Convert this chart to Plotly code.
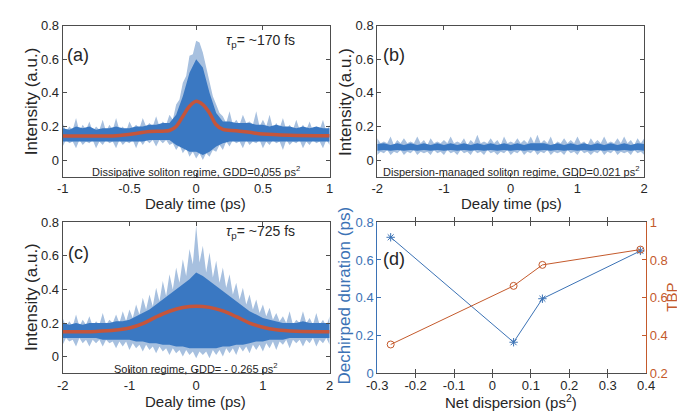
import plotly.graph_objects as go

W, H = 685, 411

# ---------------- data ----------------
# Panel (a): dissipative soliton autocorrelation, envelopes of the noisy trace
t_a_fine = [round(-1 + 0.025 * i, 3) for i in range(81)]
a_outer_hi = [0.22, 0.17, 0.20, 0.18, 0.25, 0.17, 0.21, 0.18, 0.23, 0.17,
              0.20, 0.18, 0.24, 0.17, 0.21, 0.18, 0.25, 0.18, 0.20, 0.17,
              0.23, 0.19, 0.21, 0.19, 0.25, 0.20, 0.22, 0.20, 0.26, 0.20,
              0.23, 0.21, 0.27, 0.24, 0.33, 0.36, 0.46, 0.50, 0.62, 0.63,
              0.71, 0.70, 0.64, 0.55, 0.47, 0.38, 0.33, 0.28, 0.26, 0.22,
              0.29, 0.21, 0.24, 0.21, 0.27, 0.22, 0.23, 0.21, 0.29, 0.20,
              0.24, 0.20, 0.27, 0.19, 0.22, 0.19, 0.25, 0.18, 0.21, 0.18,
              0.24, 0.18, 0.21, 0.18, 0.23, 0.17, 0.20, 0.18, 0.24, 0.17,
              0.21]
a_outer_lo = [0.08, 0.12, 0.10, 0.11, 0.07, 0.12, 0.09, 0.11, 0.10, 0.12,
              0.07, 0.11, 0.09, 0.12, 0.10, 0.11, 0.07, 0.12, 0.09, 0.11,
              0.10, 0.12, 0.07, 0.12, 0.09, 0.12, 0.10, 0.12, 0.08, 0.12,
              0.10, 0.12, 0.09, 0.10, 0.06, 0.09, 0.04, 0.07, 0.02, 0.05,
              0.01, 0.04, 0.00, 0.04, 0.02, 0.06, 0.05, 0.09, 0.06, 0.11,
              0.08, 0.12, 0.10, 0.11, 0.07, 0.12, 0.09, 0.11, 0.10, 0.12,
              0.07, 0.11, 0.09, 0.12, 0.10, 0.11, 0.06, 0.12, 0.09, 0.11,
              0.10, 0.12, 0.07, 0.11, 0.09, 0.12, 0.10, 0.11, 0.07, 0.12,
              0.09]
t_a = [-1.00, -0.95, -0.90, -0.85, -0.80, -0.75, -0.70, -0.65, -0.60, -0.55, -0.50,
       -0.45, -0.40, -0.35, -0.30, -0.25, -0.20, -0.15, -0.10, -0.05, 0.00,
       0.05, 0.10, 0.15, 0.20, 0.25, 0.30, 0.35, 0.40, 0.45, 0.50,
       0.55, 0.60, 0.65, 0.70, 0.75, 0.80, 0.85, 0.90, 0.95, 1.00]
a_inner_hi = [0.19, 0.18, 0.20, 0.19, 0.20, 0.18, 0.19, 0.19, 0.20, 0.19, 0.19,
              0.20, 0.20, 0.21, 0.21, 0.22, 0.22, 0.27, 0.38, 0.52, 0.60,
              0.55, 0.40, 0.28, 0.23, 0.23, 0.22, 0.22, 0.22, 0.21, 0.21,
              0.20, 0.21, 0.20, 0.20, 0.19, 0.20, 0.19, 0.20, 0.19, 0.19]
a_inner_lo = [0.11, 0.11, 0.11, 0.11, 0.11, 0.11, 0.11, 0.11, 0.11, 0.11, 0.11,
              0.11, 0.11, 0.12, 0.12, 0.12, 0.12, 0.09, 0.07, 0.05, 0.05,
              0.03, 0.05, 0.08, 0.10, 0.11, 0.11, 0.11, 0.11, 0.11, 0.11,
              0.11, 0.11, 0.11, 0.11, 0.11, 0.11, 0.11, 0.11, 0.11, 0.11]
fit_t_a = [-1.0, -0.8, -0.6, -0.45, -0.35, -0.25, -0.2, -0.15, -0.1, -0.05, 0.0,
           0.05, 0.1, 0.15, 0.2, 0.3, 0.4, 0.5, 0.7, 1.0]
fit_a = [0.143, 0.143, 0.145, 0.158, 0.170, 0.172, 0.176, 0.200, 0.260, 0.320, 0.350,
         0.330, 0.280, 0.210, 0.182, 0.175, 0.165, 0.155, 0.148, 0.145]

# Panel (b): dispersion-managed soliton (flat background)
t_b_fine = [round(-2 + 0.05 * i, 3) for i in range(81)]
b_outer_hi = [0.13, 0.10, 0.11, 0.10, 0.14, 0.09, 0.12, 0.10, 0.13, 0.10,
              0.11, 0.10, 0.14, 0.10, 0.12, 0.09, 0.13, 0.10, 0.11, 0.10,
              0.12, 0.10, 0.14, 0.10, 0.11, 0.10, 0.13, 0.09, 0.12, 0.10,
              0.15, 0.10, 0.11, 0.10, 0.13, 0.10, 0.12, 0.09, 0.14, 0.10,
              0.11, 0.10, 0.13, 0.10, 0.12, 0.10, 0.14, 0.10, 0.15, 0.10,
              0.12, 0.10, 0.14, 0.09, 0.11, 0.10, 0.13, 0.10, 0.12, 0.10,
              0.14, 0.10, 0.11, 0.09, 0.13, 0.10, 0.12, 0.10, 0.14, 0.10,
              0.11, 0.10, 0.13, 0.10, 0.14, 0.10, 0.12, 0.09, 0.13, 0.10,
              0.13]
b_outer_lo = [0.03, 0.05, 0.04, 0.06, 0.03, 0.05, 0.04, 0.06, 0.03, 0.05,
              0.04, 0.06, 0.03, 0.05, 0.04, 0.05, 0.03, 0.06, 0.04, 0.05,
              0.03, 0.06, 0.04, 0.05, 0.03, 0.06, 0.04, 0.05, 0.03, 0.06,
              0.04, 0.05, 0.03, 0.06, 0.04, 0.05, 0.03, 0.05, 0.04, 0.06,
              0.03, 0.05, 0.04, 0.06, 0.03, 0.05, 0.04, 0.06, 0.03, 0.05,
              0.04, 0.06, 0.03, 0.05, 0.04, 0.05, 0.03, 0.06, 0.04, 0.05,
              0.03, 0.06, 0.04, 0.05, 0.03, 0.05, 0.04, 0.06, 0.03, 0.05,
              0.04, 0.06, 0.03, 0.05, 0.04, 0.05, 0.03, 0.06, 0.04, 0.05,
              0.03]
t_b = [-2.0, -1.9, -1.8, -1.7, -1.6, -1.5, -1.4, -1.3, -1.2, -1.1, -1.0,
       -0.9, -0.8, -0.7, -0.6, -0.5, -0.4, -0.3, -0.2, -0.1, 0.0,
       0.1, 0.2, 0.3, 0.4, 0.5, 0.6, 0.7, 0.8, 0.9, 1.0,
       1.1, 1.2, 1.3, 1.4, 1.5, 1.6, 1.7, 1.8, 1.9, 2.0]
b_inner_hi = [0.095, 0.100, 0.090, 0.100, 0.090, 0.100, 0.090, 0.100, 0.090, 0.100, 0.090,
              0.100, 0.090, 0.100, 0.090, 0.100, 0.090, 0.100, 0.090, 0.100, 0.090,
              0.100, 0.090, 0.100, 0.100, 0.100, 0.090, 0.100, 0.090, 0.100, 0.090,
              0.100, 0.090, 0.100, 0.090, 0.100, 0.090, 0.100, 0.090, 0.100, 0.095]
b_inner_lo = [0.055, 0.060, 0.055, 0.060, 0.055, 0.060, 0.055, 0.060, 0.055, 0.060, 0.055,
              0.060, 0.055, 0.060, 0.055, 0.060, 0.055, 0.060, 0.055, 0.060, 0.055,
              0.060, 0.055, 0.060, 0.055, 0.060, 0.055, 0.060, 0.055, 0.060, 0.055,
              0.060, 0.055, 0.060, 0.055, 0.060, 0.055, 0.060, 0.055, 0.060, 0.055]

# Panel (c): soliton regime autocorrelation
t_c_fine = t_b_fine
c_outer_hi = [0.23, 0.18, 0.21, 0.18, 0.25, 0.18, 0.22, 0.19, 0.24, 0.18,
              0.21, 0.19, 0.26, 0.19, 0.22, 0.20, 0.25, 0.20, 0.27, 0.21,
              0.28, 0.23, 0.31, 0.25, 0.35, 0.28, 0.37, 0.30, 0.41, 0.33,
              0.45, 0.36, 0.49, 0.40, 0.53, 0.44, 0.58, 0.48, 0.64, 0.55,
              0.78, 0.56, 0.66, 0.50, 0.62, 0.47, 0.57, 0.44, 0.53, 0.41,
              0.49, 0.37, 0.44, 0.34, 0.41, 0.31, 0.37, 0.28, 0.34, 0.26,
              0.31, 0.24, 0.29, 0.22, 0.26, 0.21, 0.24, 0.20, 0.27, 0.19,
              0.22, 0.20, 0.27, 0.20, 0.23, 0.19, 0.26, 0.19, 0.22, 0.18,
              0.24]
c_outer_lo = [0.07, 0.11, 0.09, 0.10, 0.06, 0.11, 0.08, 0.10, 0.06, 0.10,
              0.08, 0.10, 0.06, 0.10, 0.08, 0.09, 0.05, 0.09, 0.06, 0.09,
              0.04, 0.08, 0.05, 0.07, 0.03, 0.07, 0.04, 0.06, 0.02, 0.06,
              0.03, 0.05, 0.01, 0.05, 0.02, 0.04, 0.00, 0.04, 0.01, 0.03,
              -0.01, 0.03, 0.01, 0.03, -0.01, 0.04, 0.01, 0.04, 0.00, 0.05,
              0.02, 0.05, 0.01, 0.06, 0.03, 0.06, 0.02, 0.07, 0.04, 0.07,
              0.03, 0.08, 0.05, 0.09, 0.04, 0.09, 0.07, 0.10, 0.05, 0.10,
              0.08, 0.10, 0.06, 0.10, 0.08, 0.11, 0.06, 0.10, 0.08, 0.11,
              0.07]
t_c = t_b
c_inner_hi = [0.20, 0.19, 0.20, 0.19, 0.20, 0.20, 0.20, 0.20, 0.21, 0.21, 0.22,
              0.24, 0.26, 0.28, 0.31, 0.34, 0.37, 0.40, 0.43, 0.46, 0.50,
              0.48, 0.45, 0.42, 0.39, 0.36, 0.33, 0.30, 0.27, 0.25, 0.23,
              0.22, 0.21, 0.20, 0.20, 0.20, 0.21, 0.20, 0.20, 0.20, 0.20]
c_inner_lo = [0.11, 0.11, 0.11, 0.11, 0.11, 0.11, 0.10, 0.10, 0.10, 0.10, 0.10,
              0.09, 0.09, 0.08, 0.08, 0.07, 0.07, 0.06, 0.06, 0.05, 0.05,
              0.05, 0.05, 0.05, 0.06, 0.06, 0.07, 0.07, 0.08, 0.09, 0.09,
              0.10, 0.10, 0.10, 0.11, 0.11, 0.11, 0.11, 0.11, 0.11, 0.11]
fit_t_c = [-2.0, -1.5, -1.2, -1.0, -0.8, -0.6, -0.4, -0.2, 0.0,
           0.2, 0.4, 0.6, 0.8, 1.0, 1.2, 1.5, 2.0]
fit_c = [0.148, 0.150, 0.158, 0.170, 0.196, 0.236, 0.270, 0.292, 0.300,
         0.293, 0.272, 0.238, 0.200, 0.175, 0.160, 0.151, 0.148]

# Panel (d): dechirped duration and TBP vs net dispersion
net_disp = [-0.265, 0.055, 0.13, 0.385]
dechirped = [0.72, 0.165, 0.395, 0.648]
tbp = [0.353, 0.663, 0.774, 0.855]

# tick labels
ticks_y = [0, 0.2, 0.4, 0.6, 0.8]
ticks_y_txt = ["0", "0.2", "0.4", "0.6", "0.8"]
ticks_xa = [-1, -0.5, 0, 0.5, 1]
ticks_xa_txt = ["-1", "-0.5", "0", "0.5", "1"]
ticks_xb = [-2, -1, 0, 1, 2]
ticks_xb_txt = ["-2", "-1", "0", "1", "2"]
ticks_xd = [-0.3, -0.2, -0.1, 0, 0.1, 0.2, 0.3, 0.4]
ticks_xd_txt = ["-0.3", "-0.2", "-0.1", "0", "0.1", "0.2", "0.3", "0.4"]
ticks_yr = [0.2, 0.4, 0.6, 0.8, 1.0]
ticks_yr_txt = ["0.2", "0.4", "0.6", "0.8", "1"]

# ---------------- styling ----------------
BLUE = "#3a78c2"
LIGHT = "#a7c0df"
FIT = "#c5553b"
DBLUE = "#3b72b5"
ORANGE = "#c45a2c"
TXT = "#262626"
FONT = "Liberation Sans, Arial, sans-serif"


def px(x, y):
    return x / W, 1 - y / H


def band(t, hi, lo, color, xa, ya):
    return go.Scatter(x=list(t) + list(t)[::-1], y=list(hi) + list(lo)[::-1],
                      fill="toself", fillcolor=color, mode="lines",
                      line=dict(width=0), hoverinfo="skip", showlegend=False,
                      xaxis=xa, yaxis=ya)


fig = go.Figure()
# (a)
fig.add_trace(band(t_a_fine, a_outer_hi, a_outer_lo, LIGHT, "x", "y"))
fig.add_trace(band(t_a, a_inner_hi, a_inner_lo, BLUE, "x", "y"))
fig.add_trace(go.Scatter(x=fit_t_a, y=fit_a, mode="lines", line=dict(color=FIT, width=3.5, shape="spline"),
                         showlegend=False, xaxis="x", yaxis="y"))
# (b)
fig.add_trace(band(t_b_fine, b_outer_hi, b_outer_lo, LIGHT, "x2", "y2"))
fig.add_trace(band(t_b, b_inner_hi, b_inner_lo, BLUE, "x2", "y2"))
# (c)
fig.add_trace(band(t_c_fine, c_outer_hi, c_outer_lo, LIGHT, "x3", "y3"))
fig.add_trace(band(t_c, c_inner_hi, c_inner_lo, BLUE, "x3", "y3"))
fig.add_trace(go.Scatter(x=fit_t_c, y=fit_c, mode="lines", line=dict(color=FIT, width=3.5, shape="spline"),
                         showlegend=False, xaxis="x3", yaxis="y3"))
# (d)
fig.add_trace(go.Scatter(x=net_disp, y=dechirped, mode="lines+markers",
                         line=dict(color=DBLUE, width=1),
                         marker=dict(symbol="asterisk-open", size=7, color=DBLUE, line=dict(width=1, color=DBLUE)),
                         showlegend=False, xaxis="x4", yaxis="y4"))
fig.add_trace(go.Scatter(x=net_disp, y=tbp, mode="lines+markers",
                         line=dict(color=ORANGE, width=1),
                         marker=dict(symbol="circle-open", size=7, color=ORANGE, line=dict(width=1, color=ORANGE)),
                         showlegend=False, xaxis="x4", yaxis="y5"))


def ax(domain, rng, tv, tt, color="#4d4d4d", tickcolor=TXT, mirror="allticks", anchor=None, **kw):
    d = dict(domain=domain, range=rng, tickvals=tv, ticktext=tt, ticks="inside", ticklen=4,
             tickcolor=color, showline=True, linecolor=color, linewidth=1, mirror=mirror,
             showgrid=False, zeroline=False, tickfont=dict(size=13, color=tickcolor, family=FONT))
    if anchor:
        d["anchor"] = anchor
    d.update(kw)
    return d


xa_dom = [45 / W, 320 / W]
xb_dom = [369 / W, 644 / W]
xd_dom = [369 / W, 646 / W]
top_dom = [1 - 168 / H, 1 - 11 / H]
bot_dom = [1 - 372 / H, 1 - 215 / H]

fig.update_layout(
    width=W, height=H, margin=dict(l=0, r=0, t=0, b=0),
    paper_bgcolor="white", plot_bgcolor="white",
    font=dict(family=FONT, color=TXT),
    xaxis=ax(xa_dom, [-1, 1], ticks_xa, ticks_xa_txt, anchor="y"),
    yaxis=ax(top_dom, [-0.1, 0.8], ticks_y, ticks_y_txt, anchor="x"),
    xaxis2=ax(xb_dom, [-2, 2], ticks_xb, ticks_xb_txt, anchor="y2"),
    yaxis2=ax(top_dom, [-0.1, 0.8], ticks_y, ticks_y_txt, anchor="x2"),
    xaxis3=ax(xa_dom, [-2, 2], ticks_xb, ticks_xb_txt, anchor="y3"),
    yaxis3=ax(bot_dom, [-0.1, 0.8], ticks_y, ticks_y_txt, anchor="x3"),
    xaxis4=ax(xd_dom, [-0.3, 0.4], ticks_xd, ticks_xd_txt, anchor="y4"),
    yaxis4=ax(bot_dom, [0, 0.8], ticks_y, ticks_y_txt, color=DBLUE, tickcolor=DBLUE, mirror=False, anchor="x4"),
    yaxis5=ax(bot_dom, [0.2, 1.0], ticks_yr, ticks_yr_txt, color=ORANGE, tickcolor=ORANGE, mirror=False,
              anchor="x4", overlaying="y4", side="right"),
)

ann = []


def text(x, y, s, size, color=TXT, angle=0, xanchor="center"):
    xp, yp = px(x, y)
    ann.append(dict(x=xp, y=yp, xref="paper", yref="paper", text=s, showarrow=False,
                    font=dict(size=size, color=color, family=FONT), textangle=angle,
                    xanchor=xanchor, yanchor="middle"))


# axis titles
text(13, 90, "Intensity (a.u.)", 17, angle=-90)
text(337, 90, "Intensity (a.u.)", 17, angle=-90)
text(13, 293, "Intensity (a.u.)", 17, angle=-90)
text(335, 291, "Dechirped duration (ps)", 17, color=DBLUE, angle=-90)
text(672, 293, "TBP", 15, color=ORANGE, angle=-90)
text(182, 196, "Dealy time (ps)", 15)
text(507, 196, "Dealy time (ps)", 15)
text(182, 401, "Dealy time (ps)", 15)
text(507, 401, "Net dispersion (ps<sup>2</sup>)", 15)
# panel labels
text(61, 42, "(a)", 18)
text(386, 42, "(b)", 18)
text(61, 247, "(c)", 18)
text(386, 253, "(d)", 18)
# notes
text(249, 27, "<i>τ</i><sub>p</sub>= ~170 fs", 14)
text(249, 225, "<i>τ</i><sub>p</sub>= ~725 fs", 14)
text(182, 162, "Dissipative soliton regime, GDD=0.055 ps<sup>2</sup>", 11)
text(507, 162, "Dispersion-managed soliton regime, GDD=0.021 ps<sup>2</sup>", 11)
text(182, 366, "Soliton regime, GDD= - 0.265 ps<sup>2</sup>", 11)

fig.update_layout(annotations=ann)
fig.write_html("out.html")
